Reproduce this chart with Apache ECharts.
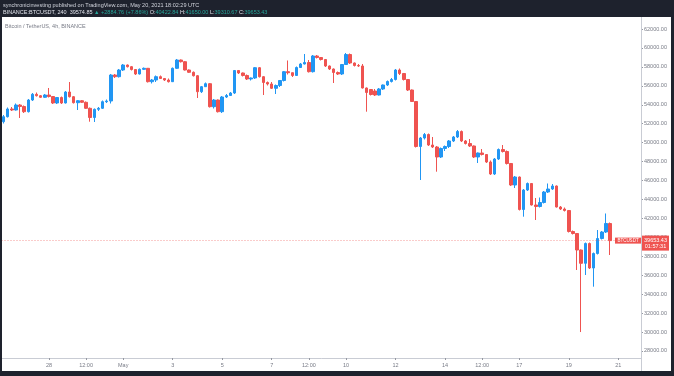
<!DOCTYPE html>
<html>

<head>
  <meta charset="UTF-8">
  <title>BTCUSDT 4h</title>
  <style>
    html,
    body {
      margin: 0;
      padding: 0;
      background: #fff;
    }

    #chart {
      width: 674px;
      height: 376px;
    }
  </style>
</head>

<body>
  <div id="chart"></div>
  <script type="text/javascript" src="https://cdn.jsdelivr.net/npm/echarts@6/dist/echarts.min.js"></script>
  <script type="text/javascript">
    // 4h candles, BINANCE:BTCUSDT, first bar 2021-04-26 04:00 UTC
    var opens = [
      52211, 52738, 53552, 53446, 53974, 53816, 53267, 54502, 55104, 54956,
      54787, 55030, 54871, 54186, 54766, 54186, 55347, 54850, 54217, 54428,
      54260, 53626, 52654, 53520, 53626, 54323, 54397, 57142, 56963, 57670,
      58198, 58019, 57723, 57248, 57744, 57850, 56435, 56614, 56963, 56773,
      56614, 56435, 57850, 58726, 58547, 57670, 57428, 57068, 55378, 55907,
      56224, 53795, 54502, 53267, 54819, 54977, 55241, 57618, 57354, 57090,
      56720, 56826, 57913, 56963, 56350, 56192, 55738, 56034, 56562, 57491,
      57385, 57090, 57934, 58304, 58462, 57491, 59149, 58990, 58779, 58093,
      57776, 57406, 57248, 58251, 59307, 58410, 58146, 58093, 55770, 55611,
      55452, 55030, 55664, 56086, 56456, 56667, 57670, 57301, 56667, 55558,
      54344, 49592, 50490, 50860, 49750, 49539, 48483, 49381, 49592, 50173,
      50596, 51176, 50173, 49909, 49645, 48483, 48906, 48747, 47955, 46688,
      48272, 49275, 49064, 47797, 45526, 46371, 42939, 44998, 45685, 43414,
      43256, 43678, 44786, 45104, 45421, 43203, 42992, 42834, 40616, 40404,
      38662, 37257, 39348, 36762, 38292, 39876, 40563, 41460
    ];
    var closes = [
      52738, 53552, 53446, 53974, 53816, 53267, 54502, 55104, 54956, 54787,
      55030, 54871, 54186, 54766, 54186, 55347, 54850, 54217, 54428, 54260,
      53626, 52654, 53520, 53626, 54323, 54397, 57142, 56963, 57670, 58198,
      58019, 57723, 57248, 57744, 57850, 56435, 56614, 56963, 56773, 56614,
      56435, 57850, 58726, 58547, 57670, 57428, 57068, 55378, 55907, 56224,
      53795, 54502, 53267, 54819, 54977, 55241, 57618, 57354, 57090, 56720,
      56826, 57913, 56963, 56350, 56192, 55738, 56034, 56562, 57491, 57385,
      57090, 57934, 58304, 58462, 57491, 59149, 58990, 58779, 58093, 57776,
      57406, 57248, 58251, 59307, 58410, 58146, 58093, 55770, 55294, 55083,
      55030, 55664, 56086, 56456, 56667, 57670, 57301, 56667, 55558, 54344,
      49592, 50490, 50860, 49750, 49539, 48483, 49381, 49592, 50173, 50596,
      51176, 50173, 49909, 49645, 48483, 48906, 48747, 47955, 46688, 48272,
      49275, 49064, 47797, 45526, 46371, 42939, 44998, 45685, 43414, 43256,
      43678, 44786, 45104, 45421, 43203, 42992, 42834, 40616, 40404, 38662,
      37257, 39348, 36762, 38292, 39876, 40563, 41460, 39653.43
    ];
    var lows = [
      52021, 52654, 53341, 53394, 52602, 53130, 53182, 54397, 54871, 54714,
      54714, 54766, 54080, 54080, 54080, 54133, 54766, 54133, 53446, 54186,
      53552, 52211, 52179, 53341, 53552, 54186, 54133, 56826, 56878, 57565,
      57934, 57618, 57142, 57195, 57670, 56350, 56245, 56403, 56720, 56509,
      56350, 56403, 57776, 58462, 57618, 57354, 56984, 54714, 55241, 55875,
      53710, 53605, 53182, 53130, 54714, 54924, 55136, 57248, 56984, 56614,
      56562, 56720, 56878, 55030, 56034, 55664, 55136, 55875, 56456, 57195,
      56931, 57037, 57882, 58251, 57406, 57406, 58885, 58674, 57987, 57670,
      56298, 57142, 57142, 58198, 58304, 58040, 57987, 55717, 53267, 54977,
      54924, 54977, 55558, 55981, 56350, 56562, 57142, 56562, 55452, 54291,
      49486, 46054, 50332, 49645, 49434, 46931, 48378, 49117, 49434, 50067,
      50490, 50067, 49804, 49539, 48378, 47850, 48642, 47850, 46582, 46582,
      48166, 48958, 47691, 45421, 45210, 42834, 42179, 44892, 43361, 41830,
      43150, 43572, 44681, 44998, 43150, 42886, 42728, 40510, 40299, 36550,
      30000, 36022, 36656, 34787, 38187, 39770, 40457, 38134
    ];
    var highs = [
      52918, 53710, 53763, 54133, 54080, 53922, 54608, 55241, 55294, 55030,
      55136, 55770, 54924, 54819, 54871, 55452, 56403, 54924, 54502, 54502,
      54344, 53710, 53605, 53763, 54450, 54555, 57248, 57248, 57776, 58304,
      58251, 58093, 57776, 57829, 57934, 57882, 56720, 57090, 57090, 56826,
      56773, 57934, 58832, 58779, 58621, 57723, 57512, 57142, 55981, 56350,
      56298, 54608, 54555, 54924, 55136, 55347, 57670, 57670, 57406, 57195,
      56878, 57987, 57987, 57037, 56456, 56403, 56139, 56614, 57565, 58674,
      57406, 58040, 58410, 59360, 58726, 59254, 59254, 59043, 58832, 58146,
      57829, 57512, 58304, 59466, 59413, 58462, 58304, 58304, 55822, 55664,
      55664, 55770, 56139, 56562, 56826, 57776, 57829, 57354, 56720, 55611,
      54397, 50596, 51018, 50965, 50596, 49645, 49486, 49698, 50278, 50701,
      51334, 51282, 50278, 50384, 49698, 48958, 49328, 48800, 48114, 48378,
      49381, 49750, 49170, 47850, 46477, 46424, 45104, 45790, 45737, 44154,
      44206, 44892, 45685, 45632, 45474, 43308, 43150, 42886, 40721, 40457,
      38715, 39454, 39454, 38398, 40774, 40668, 42517, 41566
    ];

    var tickTimes = ['2021-04-28 00:00', '2021-04-29 12:00', '2021-05-01 00:00', '2021-05-03 00:00',
      '2021-05-05 00:00', '2021-05-07 00:00', '2021-05-08 12:00', '2021-05-10 00:00', '2021-05-12 00:00',
      '2021-05-14 00:00', '2021-05-15 12:00', '2021-05-17 00:00', '2021-05-19 00:00', '2021-05-21 00:00'];
    var tickLabels = ['28', '12:00', 'May', '3', '5', '7', '12:00', '10', '12', '14', '12:00', '17', '19', '21'];
    var priceTicks = [28000, 30000, 32000, 34000, 36000, 38000, 40000, 42000, 44000,
      46000, 48000, 50000, 52000, 54000, 56000, 58000, 60000, 62000];

    var lastClose = 39653.43;
    var barCount = 155; // 148 candles + empty space on the right
    var firstBar = Date.UTC(2021, 3, 26, 4);

    function pad(n) {
      return n < 10 ? '0' + n : '' + n;
    }

    var categories = [];
    for (var i = 0; i < barCount; i++) {
      var d = new Date(firstBar + i * 4 * 3600 * 1000);
      categories.push(d.getUTCFullYear() + '-' + pad(d.getUTCMonth() + 1) + '-' + pad(d.getUTCDate()) +
        ' ' + pad(d.getUTCHours()) + ':' + pad(d.getUTCMinutes()));
    }

    var candles = opens.map(function (o, i) {
      return [o, closes[i], lows[i], highs[i]];
    });

    var font = '"Liberation Sans", Arial, sans-serif';
    var frame = '#1e222d';

    function isTick(index, value) {
      return tickTimes.indexOf(value) >= 0;
    }

    var graphics = [
      { id: 'head', type: 'rect', z: 100, shape: { x: 0, y: 0, width: 674, height: 17 }, style: { fill: frame } },
      { id: 'leftEdge', type: 'rect', z: 100, shape: { x: 0, y: 0, width: 2, height: 376 }, style: { fill: frame } },
      { id: 'rightEdge', type: 'rect', z: 100, shape: { x: 671, y: 0, width: 3, height: 376 }, style: { fill: frame } },
      { id: 'bottomEdge', type: 'rect', z: 100, shape: { x: 0, y: 371, width: 674, height: 5 }, style: { fill: frame } },
      { id: 'axisSep', type: 'line', z: 90, shape: { x1: 641.5, y1: 17, x2: 641.5, y2: 371 }, style: { stroke: '#c9ccd4', lineWidth: 1 } },
      {
        id: 'head1', type: 'text', z: 101, x: 3, y: 5,
        style: {
          text: 'synchronicinvesting published on TradingView.com, May 20, 2021 18:02:29 UTC',
          fill: '#d1d4dc', font: '5.5px ' + font, verticalAlign: 'middle'
        }
      },
      {
        id: 'head2', type: 'text', z: 101, x: 3, y: 12,
        style: {
          text: '{w|BINANCE:BTCUSDT, 240  39574.85 }{g|\u25B2 +2884.76 (+7.86%)}{w| O:}{g|40422.84}{w| H:}{g|41650.00}{w| L:}{g|39310.67}{w| C:}{g|39653.43}',
          font: '5.5px ' + font, verticalAlign: 'middle',
          rich: {
            w: { fill: '#e0e3eb', font: '5.5px ' + font },
            g: { fill: '#26a69a', font: '5.5px ' + font }
          }
        }
      },
      {
        id: 'title', type: 'text', z: 101, x: 5, y: 26,
        style: { text: 'Bitcoin / TetherUS, 4h, BINANCE', fill: '#787b86', font: '5.5px ' + font, verticalAlign: 'middle' }
      }
    ];

    var chart = echarts.init(document.getElementById('chart'), null, { renderer: 'canvas' });
    var option = {
      animation: false,
      backgroundColor: '#ffffff',
      grid: {
        left: 1.5,
        right: 33,
        top: 17,
        bottom: 18,
        containLabel: false,
        outerBoundsMode: 'none'
      },
      xAxis: {
        type: 'category',
        data: categories,
        boundaryGap: true,
        axisLine: { lineStyle: { color: '#c9ccd4', width: 1 } },
        axisTick: {
          show: true,
          alignWithLabel: true,
          interval: isTick,
          length: 2,
          lineStyle: { color: '#9598a1' }
        },
        axisLabel: {
          interval: isTick,
          formatter: function (value) {
            return tickLabels[tickTimes.indexOf(value)];
          },
          color: '#787b86',
          fontSize: 5.5,
          fontFamily: font,
          margin: 4
        },
        splitLine: { show: false }
      },
      yAxis: {
        type: 'value',
        position: 'right',
        min: 27258,
        max: 63267,
        scale: true,
        axisLine: { show: true, lineStyle: { color: '#c9ccd4', width: 1 } },
        axisTick: {
          show: true,
          length: 2,
          customValues: priceTicks,
          lineStyle: { color: '#9598a1' }
        },
        axisLabel: {
          customValues: priceTicks,
          formatter: function (v) {
            return v.toFixed(2);
          },
          color: '#787b86',
          fontSize: 5.5,
          fontFamily: font,
          margin: 3
        },
        splitLine: { show: false }
      },
      series: [{
        type: 'candlestick',
        data: candles,
        barWidth: 3,
        itemStyle: {
          color: '#2196f3',
          color0: '#ef5350',
          borderColor: '#2196f3',
          borderColor0: '#ef5350',
          borderWidth: 1
        },
        markLine: {
          silent: true,
          symbol: 'none',
          label: { show: false },
          lineStyle: { color: '#ef5350', type: [1, 2], width: 1, opacity: 0.6 },
          data: [{ yAxis: lastClose }]
        }
      }],
      graphic: graphics
    };
    chart.setOption(option);

    // price labels on the last close, placed through the axis scale
    var yClose = chart.convertToPixel({ yAxisIndex: 0 }, lastClose);
    graphics.push(
      { id: 'symBox', type: 'rect', z: 95, shape: { x: 615, y: yClose - 3, width: 26, height: 6 }, style: { fill: '#ef5350' } },
      {
        id: 'symText', type: 'text', z: 96, x: 628, y: yClose,
        style: { text: 'BTCUSDT', fill: '#ffffff', font: '4.5px ' + font, align: 'center', verticalAlign: 'middle' }
      },
      { id: 'priceBox', type: 'rect', z: 95, shape: { x: 642, y: yClose - 5, width: 27, height: 15 }, style: { fill: '#ef5350' } },
      {
        id: 'priceText', type: 'text', z: 96, x: 655.5, y: yClose - 0.5,
        style: { text: '39653.43', fill: '#ffffff', font: '5.5px ' + font, align: 'center', verticalAlign: 'middle' }
      },
      {
        id: 'countText', type: 'text', z: 96, x: 655.5, y: yClose + 5.5,
        style: { text: '01:57:31', fill: '#ffffff', font: '5.5px ' + font, align: 'center', verticalAlign: 'middle' }
      }
    );
    chart.setOption({ graphic: graphics });
  </script>
</body>

</html>
